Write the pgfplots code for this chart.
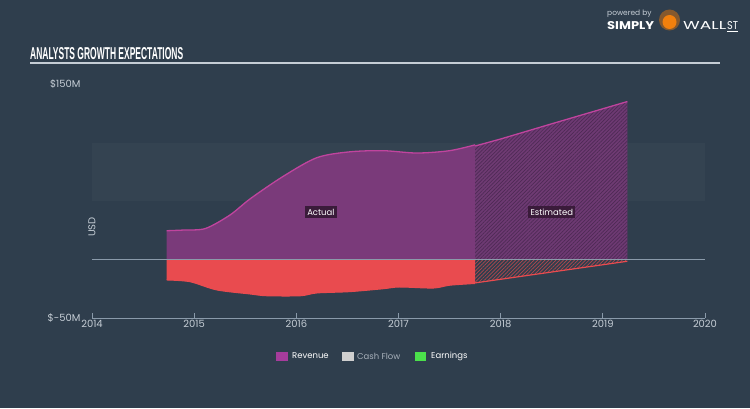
\documentclass[border=0pt]{standalone}
\usepackage{pgfplots}
\pgfplotsset{compat=1.18}
\usepackage{pgfplotstable}
\usetikzlibrary{patterns.meta}
\usepackage{fontspec}
\setmainfont{Poppins}
\newfontfamily\titlefont{Liberation Sans}

\definecolor{bg}{HTML}{2F3E4D}
\definecolor{band}{HTML}{344351}
\definecolor{axisc}{HTML}{8A9AAA}
\definecolor{tickc}{HTML}{C5CDD5}
\definecolor{revfill}{HTML}{7A3A7A}
\definecolor{revline}{HTML}{C0449E}
\definecolor{hatchc}{HTML}{4E2A55}
\definecolor{earnfill}{HTML}{E94B4F}
\definecolor{lbox}{HTML}{3A1B3A}
\definecolor{legrev}{HTML}{A63C9C}
\definecolor{legcash}{HTML}{CFCFCF}
\definecolor{legearn}{HTML}{4BE04B}

% revenue, actual and estimated (USD m)
\pgfplotstableread{
x y
2014.73 24.6
2014.90 25.2
2015.11 26.5
2015.35 38
2015.55 52
2015.87 71
2016.20 87
2016.52 92
2016.85 93
2017.18 91
2017.50 93
2017.75 98
}\revact
\pgfplotstableread{
x y
2017.75 97
2018.00 103
2018.50 116
2019.24 135
}\revest
% earnings
\pgfplotstableread{
x y
2014.73 -17.5
2014.96 -19
2015.22 -26
2015.55 -29.5
2015.71 -31
2016.04 -31
2016.20 -28.6
2016.52 -27.5
2016.85 -25
2017.01 -23.5
2017.34 -24.4
2017.50 -22
2017.75 -20.5
}\earnact
\pgfplotstableread{
x y
2017.75 -20
2019.24 -1.5
}\earnest

\begin{document}
\begin{tikzpicture}[x=1bp,y=1bp]
\fill[bg] (0,0) rectangle (750,408);
\useasboundingbox (0,0) rectangle (750,408);

% title
\node[anchor=north west, inner sep=0, text=white] at (30,361)
  {\resizebox{153bp}{12bp}{\titlefont\bfseries ANALYSTS GROWTH EXPECTATIONS}};
\draw[color=tickc, line width=1.2bp] (30,345) -- (720,345);

% logo
\node[anchor=west, inner sep=0, text=tickc, font=\fontsize{7.5}{8}\selectfont] at (607,394) {powered by};
\node[anchor=west, inner sep=0, text=white] at (607,382.5)
  {\resizebox{47bp}{8bp}{\bfseries SIMPLY}};
\fill[brown!70!black] (669.5,388) circle (10.5bp);
\fill[orange!80!brown] (669.5,386) circle (7bp);
\node[anchor=west, inner sep=0, text=white] at (683,382.5)
  {\resizebox{43bp}{8bp}{WALL}};
\node[anchor=west, inner sep=0, text=white] at (727,382.5)
  {\resizebox{11bp}{8bp}{ST}};
\draw[white, line width=0.8bp] (727,376.5) -- (738,376.5);

\begin{axis}[
    at={(92bp,90bp)}, anchor=south west,
    scale only axis, width=613bp, height=234bp,
    xmin=2014, xmax=2020, ymin=-50, ymax=150,
    axis x line*=bottom, axis y line*=left,
    axis line style={-},
    x axis line style={draw=axisc, line width=1bp},
    y axis line style={draw=none},
    xtick={2014,2015,...,2020},
    xtick align=inside,
    major tick length=5bp,
    xtick style={draw=axisc, line width=0.8bp},
    ytick={-50,150}, yticklabels={\$-50M,\$150M},
    ytick style={draw=none},
    /pgf/number format/1000 sep={},
    /pgf/number format/assume math mode=true,
    xticklabel style={text=tickc, font=\fontsize{10}{12}\selectfont, yshift=1bp},
    yticklabel style={text=tickc, font=\fontsize{10}{12}\selectfont, xshift=-8bp},
    ylabel={USD},
    ylabel style={at={(axis description cs:0,0.5)}, xshift=-26bp, anchor=center,
        text=tickc, font=\fontsize{10}{12}\selectfont},
]
\fill[band] (axis cs:2014,50) rectangle (axis cs:2020,100);

% revenue
\addplot[draw=none, fill=revfill, smooth, tension=0.5] table {\revact} \closedcycle;
\addplot[revline, line width=1.3bp, smooth, tension=0.5] table {\revact};
\addplot[draw=none, fill=revfill, fill opacity=0.85] table {\revest} \closedcycle;
\addplot[draw=none, pattern={Lines[angle=45, distance=2.6bp, line width=0.7bp]}, pattern color=hatchc] table {\revest} \closedcycle;
\addplot[revline, line width=1.3bp] table {\revest};

% earnings
\addplot[draw=none, fill=earnfill, smooth, tension=0.5] table {\earnact} \closedcycle;
\addplot[earnfill, line width=1bp, smooth, tension=0.5] table {\earnact};
\addplot[draw=none, pattern={Lines[angle=45, distance=2.6bp, line width=0.7bp]}, pattern color=earnfill!70!bg] table {\earnest} \closedcycle;
\addplot[earnfill, line width=1.2bp] table {\earnest};

% zero line
\addplot[axisc, line width=1.2bp] coordinates {(2014,0) (2020,0)};

\node[fill=lbox, text=white, inner sep=2.5bp, font=\fontsize{8.5}{10}\selectfont] at (axis cs:2016.24,40.6) {Actual};
\node[fill=lbox, text=white, inner sep=2.5bp, font=\fontsize{8.5}{10}\selectfont] at (axis cs:2018.50,40.6) {Estimated};
\end{axis}

% legend
\fill[legrev] (276,47) rectangle (288,56);
\node[anchor=west, inner sep=0, text=white, font=\fontsize{8.5}{10}\selectfont] at (292,52) {Revenue};
\fill[legcash] (342,47) rectangle (354,56);
\node[anchor=west, inner sep=0, text=tickc!80!bg, font=\fontsize{8.5}{10}\selectfont] at (357,52) {Cash Flow};
\fill[legearn] (415,47) rectangle (426,56);
\node[anchor=west, inner sep=0, text=white, font=\fontsize{8.5}{10}\selectfont] at (431,52) {Earnings};
\end{tikzpicture}
\end{document}
